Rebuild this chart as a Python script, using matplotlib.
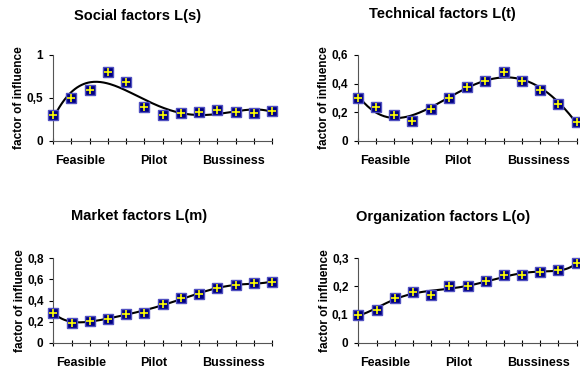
import numpy as np
import matplotlib
matplotlib.use("Agg")
from matplotlib import pyplot as plt

plt.rcParams['font.family'] = ['Liberation Sans', 'DejaVu Sans']
plt.rcParams['font.weight'] = 'bold'

steps = np.arange(13)
phases = ["Feasible", "Pilot", "Bussiness"]
phase_pos = [1.5, 5.5, 9.9]

social = [0.30, 0.50, 0.595, 0.80, 0.69, 0.40, 0.30, 0.32, 0.34, 0.36, 0.34, 0.33, 0.35]
technical = [0.297, 0.24, 0.18, 0.138, 0.224, 0.30, 0.38, 0.42, 0.48, 0.42, 0.357, 0.257, 0.135]
market = [0.285, 0.19, 0.21, 0.227, 0.272, 0.285, 0.37, 0.42, 0.46, 0.52, 0.545, 0.563, 0.58]
organization = [0.099, 0.117, 0.160, 0.182, 0.169, 0.20, 0.20, 0.218, 0.24, 0.24, 0.253, 0.259, 0.282]

panels = [
    ("Social factors L(s)", social, 4, 1.0, [0, 0.5, 1], ["0", "0,5", "1"],
     [0.0914, 0.622, 0.3776, 0.2306], (138, 16)),
    ("Technical factors L(t)", technical, 4, 0.6, [0, 0.2, 0.4, 0.6], ["0", "0,2", "0,4", "0,6"],
     [0.6167, 0.622, 0.3776, 0.2306], (442, 14)),
    ("Market factors L(m)", market, 6, 0.8, [0, 0.2, 0.4, 0.6, 0.8], ["0", "0,2", "0,4", "0,6", "0,8"],
     [0.0919, 0.0812, 0.3770, 0.2263], (139, 216)),
    ("Organization factors L(o)", organization, 6, 0.3, [0, 0.1, 0.2, 0.3], ["0", "0,1", "0,2", "0,3"],
     [0.6178, 0.0812, 0.3765, 0.2263], (443, 217)),
]

W, H = 580, 373
fig = plt.figure(figsize=(W / 100, H / 100), dpi=100)

for title, vals, deg, top, yt, ytl, rect, tpos in panels:
    ax = fig.add_axes(rect)
    # polynomial trendline like the spreadsheet one
    coef = np.polyfit(steps, vals, deg)
    xs = np.linspace(0, 12, 200)
    ax.plot(xs, np.polyval(coef, xs), color="black", lw=1.5, zorder=2)
    ax.plot(steps, vals, "s", color="#000080", markeredgecolor="#5050c0", markersize=6.5, clip_on=False, zorder=3)
    ax.plot(steps, vals, "+", color="yellow", markersize=6, markeredgewidth=1.2, clip_on=False, zorder=4)
    ax.set_xlim(0, 12)
    ax.set_ylim(0, top)
    ax.set_xticks(steps)
    ax.set_xticklabels([])
    ax.set_yticks(yt)
    ax.set_yticklabels(ytl, fontsize=8.5, fontweight='bold')
    ax.tick_params(direction='out', length=3, width=0.8, colors='black', pad=4)
    ax.tick_params(axis='x', direction='inout', length=5)
    for s in ["top", "right"]:
        ax.spines[s].set_visible(False)
    for s in ["left", "bottom"]:
        ax.spines[s].set_linewidth(0.8)
        ax.spines[s].set_color("#555555")
    ax.set_ylabel("factor of influence", fontsize=8.5, fontweight='bold', labelpad=1)
    for name, p in zip(phases, phase_pos):
        ax.annotate(name, (p, 0), xycoords=('data', 'axes fraction'), xytext=(0, -10),
                    textcoords='offset points', ha='center', va='top', fontsize=9, fontweight='bold')
    fig.text(tpos[0] / W, 1 - tpos[1] / H, title, ha='center', va='center',
             fontsize=10.5, fontweight='bold')

fig.savefig("out.png", dpi=100)
